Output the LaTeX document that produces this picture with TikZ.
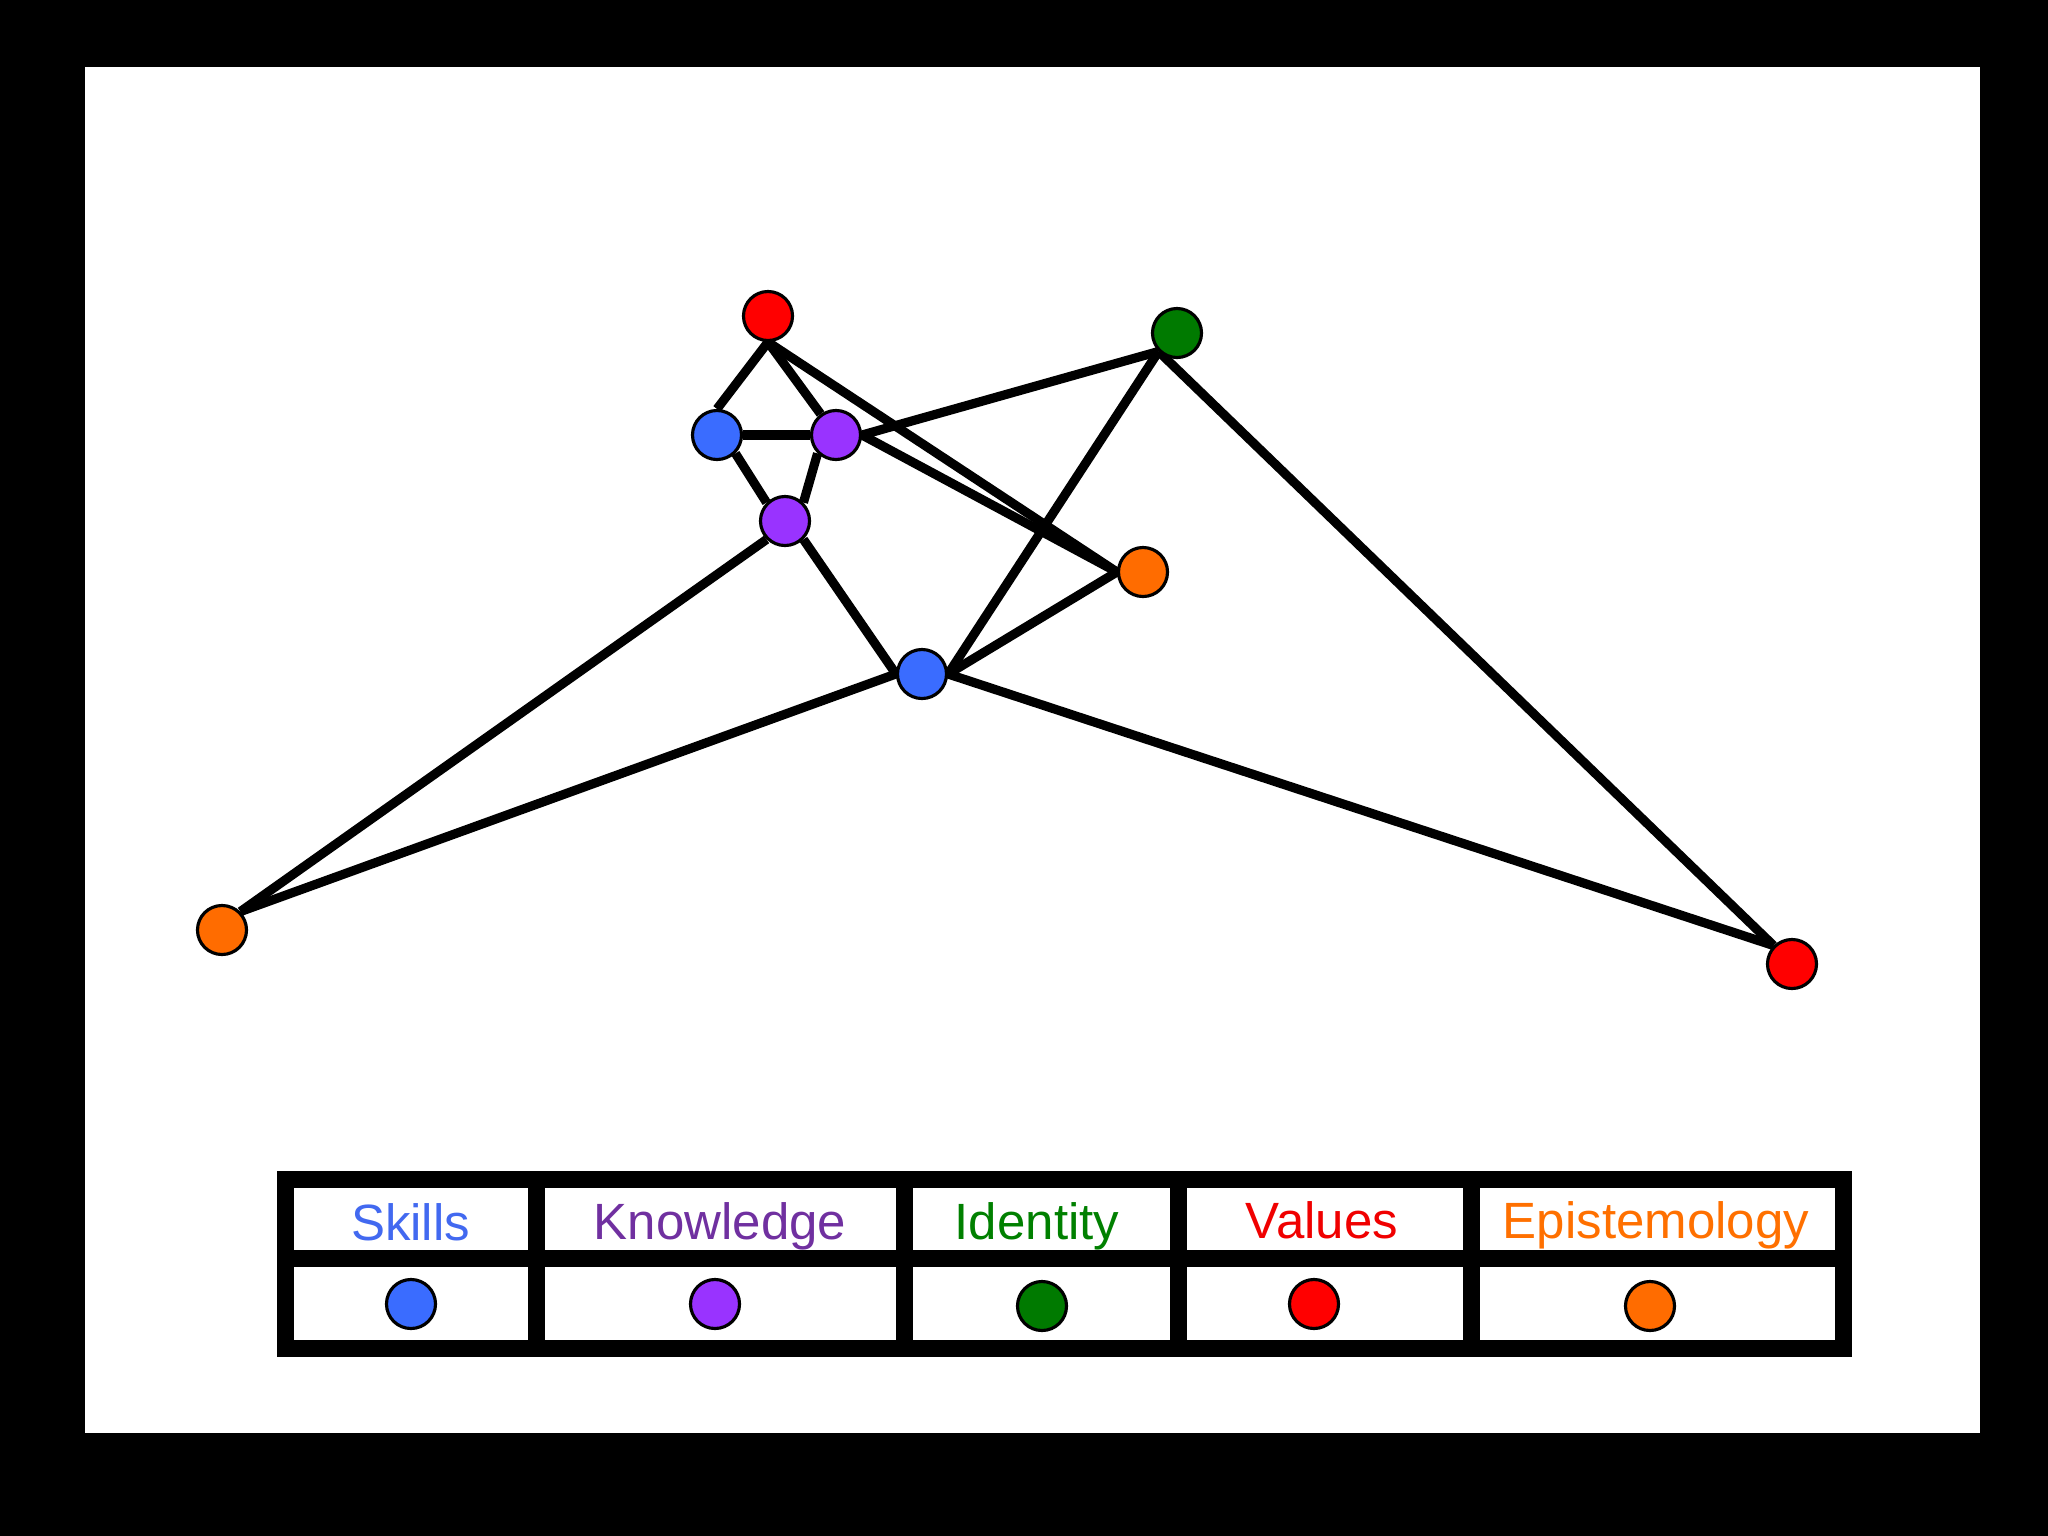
\documentclass[tikz,border=0pt]{standalone}
\usepackage{fontspec}
\setmainfont{Liberation Sans}
\usepackage{xcolor}
\usepackage{tikz}
\definecolor{skillblue}{RGB}{58,108,255}
\definecolor{knowpurple}{RGB}{153,51,255}
\definecolor{identgreen}{RGB}{0,122,0}
\definecolor{valred}{RGB}{255,0,0}
\definecolor{epiorange}{RGB}{255,108,0}
\definecolor{skilltext}{RGB}{66,105,240}
\definecolor{knowtext}{RGB}{112,48,160}
\definecolor{identtext}{RGB}{0,128,0}
\definecolor{valtext}{RGB}{240,0,0}
\definecolor{epitext}{RGB}{255,112,0}
\pgfdeclarelayer{canvas}
\pgfdeclarelayer{edges}
\pgfsetlayers{canvas,edges,main}
\tikzstyle{dot} = [
    circle,
    minimum size=0.49cm,
    inner sep=0pt,
    draw=black,
    line width=0.9pt
]
\tikzstyle{skill} = [dot, fill=skillblue]
\tikzstyle{knowledge} = [dot, fill=knowpurple]
\tikzstyle{identity} = [dot, fill=identgreen]
\tikzstyle{values} = [dot, fill=valred]
\tikzstyle{episteme} = [dot, fill=epiorange]
\tikzstyle{link} = [
    line width=2.6pt,
    color=black
]
\tikzstyle{frame} = [
    line width=0.17cm,
    line join=miter,
    color=black
]
\tikzstyle{legendtext} = [
    anchor=base,
    inner sep=0pt,
    font=\fontsize{14.5}{16}\selectfont
]

\begin{document}
\begin{tikzpicture}[x=0.01cm, y=-0.01cm]
        % Page
        \begin{pgfonlayer}{canvas}
            \fill[black] (0,0) rectangle (2048,1536);
            \fill[white] (85,67) rectangle (1980,1433);
        \end{pgfonlayer}
        
        % Network nodes
        \node[values] (valtop) at (768,316) {};
        \node[identity] (ident) at (1177,333) {};
        \node[skill] (skilltop) at (717,435) {};
        \node[knowledge] (knowtop) at (836,435) {};
        \node[knowledge] (knowmid) at (785,521) {};
        \node[episteme] (epiright) at (1143,572) {};
        \node[skill] (skillmid) at (922,674) {};
        \node[episteme] (epileft) at (222,930) {};
        \node[values] (valright) at (1792,964) {};
        
        % Links
        \begin{pgfonlayer}{edges}
            \draw[link] (valtop.south) -- (skilltop.north);
            \draw[link] (valtop.south) -- (knowtop);
            \draw[link] (valtop.south) -- (epiright.west);
            \draw[link] (skilltop.east) -- (knowtop.west);
            \draw[link] (skilltop.south east) -- (knowmid.north west);
            \draw[link] (knowmid.north east) -- (knowtop.south west);
            \draw[link] (knowtop.east) -- (ident.south west);
            \draw[link] (knowtop.east) -- (epiright.west);
            \draw[link] (knowmid.south west) -- (epileft.north east);
            \draw[link] (knowmid.south east) -- (skillmid.west);
            \draw[link] (skillmid.west) -- (epileft.north east);
            \draw[link] (skillmid.east) -- (ident.south west);
            \draw[link] (skillmid.east) -- (epiright.west);
            \draw[link] (skillmid.east) -- (valright.north west);
            \draw[link] (ident.south west) -- (valright.north west);
        \end{pgfonlayer}
        
        % Legend table
        \draw[frame] (285.5,1179) rectangle (1843,1348);
        \draw[frame] (285.5,1258.5) -- (1843,1258.5);
        \foreach \colx in {536.5, 904.5, 1178.5, 1471}
            \draw[frame] (\colx,1179) -- (\colx,1348);
        
        % Legend labels
        \node[legendtext, text=skilltext] (lblskill) at (410.5,1240) {Skills};
        \node[legendtext, text=knowtext] (lblknow) at (720,1239) {Knowledge};
        \node[legendtext, text=identtext] (lblident) at (1037,1239) {Identity};
        \node[legendtext, text=valtext] (lblval) at (1322,1238) {Values};
        \node[legendtext, text=epitext] (lblepi) at (1656,1238) {Epistemology};
        
        % Legend dots
        \node[skill] (keyskill) at (411,1304) {};
        \node[knowledge] (keyknow) at (715,1304) {};
        \node[identity] (keyident) at (1042,1306) {};
        \node[values] (keyval) at (1314,1304) {};
        \node[episteme] (keyepi) at (1650,1306) {};
    \end{tikzpicture}
\end{document}
